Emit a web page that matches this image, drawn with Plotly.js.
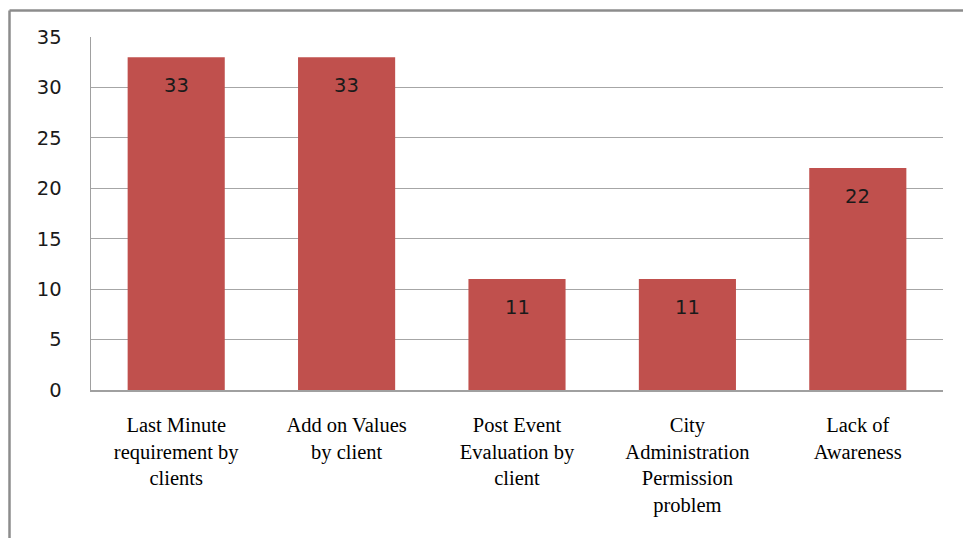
<!DOCTYPE html>
<html>
<head>
<meta charset="utf-8">
<script src="https://cdn.plot.ly/plotly-3.0.1.min.js"></script>
<style>
html,body{margin:0;padding:0;background:#fff;}
#chart{width:963px;height:538px;}
</style>
</head>
<body>
<div id="chart"></div>
<script>
const categories = [
  "Last Minute<br>requirement by<br>clients",
  "Add on Values<br>by client",
  "Post Event<br>Evaluation by<br>client",
  "City<br>Administration<br>Permission<br>problem",
  "Lack of<br>Awareness"
];
const values = [33, 33, 11, 11, 22];
const yTicks = [0, 5, 10, 15, 20, 25, 30, 35];

const barColor = "#C0504D";

const trace = {
  type: "bar",
  x: categories,
  y: values,
  marker: {color: barColor},
  hoverinfo: "none"
};

const annotations = categories.map((c, i) => ({
  x: c, y: values[i], xref: "x", yref: "y",
  text: String(values[i]), showarrow: false,
  yanchor: "middle", yshift: -28,
  font: {family: "DejaVu Sans, Verdana, sans-serif", size: 19.5, color: "#1a1a1a"}
}));

const layout = {
  width: 963, height: 538,
  margin: {l: 91, r: 20, t: 37, b: 148},
  paper_bgcolor: "#fff", plot_bgcolor: "#fff",
  showlegend: false,
  bargap: 0.43,
  xaxis: {
    type: "category",
    showline: true, linecolor: "#A0A0A0", linewidth: 1.5,
    ticks: "outside", ticklen: 16, tickcolor: "rgba(0,0,0,0)",
    tickfont: {family: "Liberation Serif, Times New Roman, serif", size: 20.5, color: "#000"},
    fixedrange: true
  },
  yaxis: {
    range: [0, 35], tickvals: yTicks, ticktext: yTicks.map(String),
    showgrid: true, gridcolor: "#A6A6A6", gridwidth: 1.2,
    showline: true, linecolor: "#A0A0A0", linewidth: 1.5,
    zeroline: false,
    ticks: "outside", ticklen: 24, tickcolor: "rgba(0,0,0,0)",
    tickfont: {family: "DejaVu Sans, Verdana, sans-serif", size: 19.5, color: "#1a1a1a"},
    fixedrange: true
  },
  annotations: annotations,
  shapes: [
    {type: "line", xref: "paper", yref: "paper",
     x0: (9.5 - 91) / 852, x1: (9.5 - 91) / 852,
     y0: (390 - 10.5) / 353, y1: (390 - 540) / 353,
     line: {color: "#8C8C8C", width: 2.5}},
    {type: "line", xref: "paper", yref: "paper",
     x0: (9.5 - 91) / 852, x1: (965 - 91) / 852,
     y0: (390 - 10.5) / 353, y1: (390 - 10.5) / 353,
     line: {color: "#8C8C8C", width: 2.5}}
  ]
};

Plotly.newPlot("chart", [trace], layout, {displayModeBar: false, staticPlot: true});
</script>
</body>
</html>
